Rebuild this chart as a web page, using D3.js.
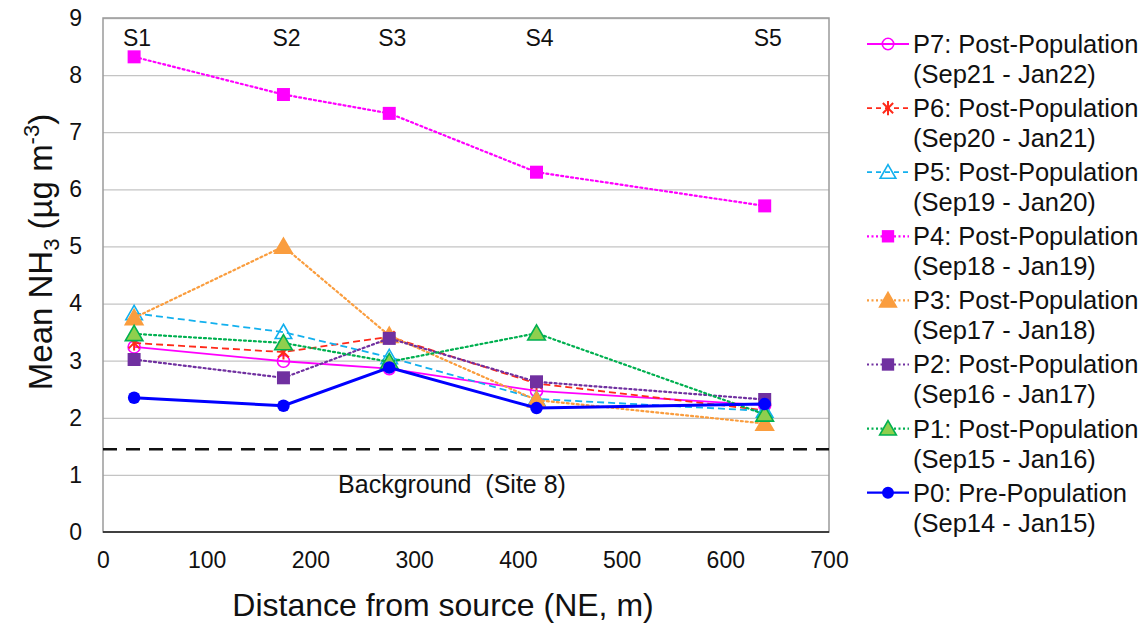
<!DOCTYPE html>
<html>
<head>
<meta charset="utf-8">
<script src="https://cdn.jsdelivr.net/npm/d3@7.9.0/dist/d3.min.js"></script>
<style>
  body { margin: 0; background: #fff; }
  svg { display: block; font-family: "Liberation Sans", Arial, sans-serif; }
</style>
</head>
<body>
<svg id="chart" width="1146" height="626"></svg>
<script>
// distances of the sampling sites (m, NE of source)
const distances = [30, 174, 276, 418, 638];
const siteLabels = ['S1', 'S2', 'S3', 'S4', 'S5'];

// mean NH3 per period at S1..S5
const p7 = [3.24, 2.99, 2.86, 2.47, 2.22];
const p6 = [3.31, 3.15, 3.42, 2.60, 2.13];
const p5 = [3.83, 3.50, 3.06, 2.33, 2.12];
const p4 = [8.32, 7.66, 7.33, 6.30, 5.71];
const p3 = [3.75, 5.00, 3.44, 2.31, 1.90];
const p2 = [3.02, 2.70, 3.39, 2.63, 2.32];
const p1 = [3.47, 3.31, 2.98, 3.48, 2.06];
const p0 = [2.35, 2.21, 2.88, 2.17, 2.24];

const seriesNames = [
  'P7: Post-Population', 'P6: Post-Population', 'P5: Post-Population', 'P4: Post-Population',
  'P3: Post-Population', 'P2: Post-Population', 'P1: Post-Population', 'P0: Pre-Population'
];
const seriesPeriods = [
  '(Sep21 - Jan22)', '(Sep20 - Jan21)', '(Sep19 - Jan20)', '(Sep18 - Jan19)',
  '(Sep17 - Jan18)', '(Sep16 - Jan17)', '(Sep15 - Jan16)', '(Sep14 - Jan15)'
];

const backgroundLevel = 1.45;
const backgroundLabel = 'Background  (Site 8)';

const xTicks = [0, 100, 200, 300, 400, 500, 600, 700];
const yTicks = [0, 1, 2, 3, 4, 5, 6, 7, 8, 9];

// styling per series (same order as names)
const styles = [
  { color: '#ff00ff', dash: null,  width: 1.8, marker: 'circleOpen' },
  { color: '#ff2a1a', dash: '7,4', width: 1.8, marker: 'asterisk' },
  { color: '#12b0ee', dash: '7,4', width: 1.8, marker: 'triangleOpen' },
  { color: '#ff00ff', dash: '2,3', width: 2.2, marker: 'square', fill: '#ff00ff' },
  { color: '#fa9d3e', dash: '2,3', width: 2.2, marker: 'triangle', fill: '#fa9d3e' },
  { color: '#7030a0', dash: '2,3', width: 2.2, marker: 'square', fill: '#7030a0' },
  { color: '#00b050', dash: '2,3', width: 2.2, marker: 'triangle', fill: '#8fcf4e' },
  { color: '#0000ff', dash: null,  width: 3,   marker: 'circle', fill: '#0000ff' }
];
const allValues = [p7, p6, p5, p4, p3, p2, p1, p0];

const series = seriesNames.map((name, i) => ({
  name: name,
  period: seriesPeriods[i],
  values: allValues[i].map((v, j) => ({ d: distances[j], v: v })),
  ...styles[i]
}));

const svg = d3.select('#chart');
const plotL = 103, plotR = 829, plotT = 18, plotB = 532;

const x = d3.scaleLinear().domain([0, 700]).range([plotL, plotR]);
const y = d3.scaleLinear().domain([0, 9]).range([plotB, plotT]);

// gridlines
svg.append('g')
  .attr('transform', `translate(${plotL},0)`)
  .call(d3.axisLeft(y).tickValues(yTicks.slice(1)).tickSize(-(plotR - plotL)).tickFormat(''))
  .call(g => g.select('.domain').remove())
  .call(g => g.selectAll('line').attr('stroke', '#c4c4c4').attr('stroke-width', 1.3));

// plot frame
svg.append('rect')
  .attr('x', plotL).attr('y', plotT)
  .attr('width', plotR - plotL).attr('height', plotB - plotT)
  .attr('fill', 'none').attr('stroke', '#9a9a9a').attr('stroke-width', 1.5);
svg.append('line')
  .attr('x1', plotL).attr('x2', plotR).attr('y1', plotB).attr('y2', plotB)
  .attr('stroke', '#1a1a1a').attr('stroke-width', 1.5);

// y axis labels
svg.append('g')
  .attr('transform', `translate(${plotL - 21},0)`)
  .call(d3.axisLeft(y).tickValues(yTicks).tickSize(0).tickPadding(0))
  .call(g => g.select('.domain').remove())
  .call(g => g.selectAll('text')
    .attr('font-size', 23).attr('fill', '#111')
    .attr('font-family', '"Liberation Sans", Arial, sans-serif'));

// x axis labels
svg.append('g')
  .attr('transform', `translate(0,${plotB + 20})`)
  .call(d3.axisBottom(x).tickValues(xTicks).tickSize(0).tickPadding(0))
  .call(g => g.select('.domain').remove())
  .call(g => g.selectAll('text')
    .attr('font-size', 23).attr('fill', '#111')
    .attr('font-family', '"Liberation Sans", Arial, sans-serif'));

// axis titles
svg.append('text')
  .attr('x', 443).attr('y', 616)
  .attr('text-anchor', 'middle')
  .attr('font-size', 32).attr('fill', '#111')
  .text('Distance from source (NE, m)');

const yTitle = svg.append('text')
  .attr('transform', 'translate(52,252) rotate(-90)')
  .attr('text-anchor', 'middle')
  .attr('font-size', 33).attr('fill', '#111');
yTitle.append('tspan').text('Mean NH');
yTitle.append('tspan').attr('font-size', 22).attr('dy', 7).text('3');
yTitle.append('tspan').attr('dy', -7).text(' (µg m');
yTitle.append('tspan').attr('font-size', 22).attr('dy', -13).text('-3');
yTitle.append('tspan').attr('dy', 13).text(')');

// site labels along the top
svg.append('g').selectAll('text')
  .data(siteLabels)
  .join('text')
  .attr('x', (d, i) => x(distances[i]) + 3)
  .attr('y', 46)
  .attr('text-anchor', 'middle')
  .attr('font-size', 23).attr('fill', '#111')
  .text(d => d);

// background line
svg.append('line')
  .attr('x1', plotL).attr('x2', plotR)
  .attr('y1', y(backgroundLevel)).attr('y2', y(backgroundLevel))
  .attr('stroke', '#111').attr('stroke-width', 2.5)
  .attr('stroke-dasharray', '14,9');
svg.append('text')
  .attr('x', 452).attr('y', 493)
  .attr('text-anchor', 'middle')
  .attr('font-size', 25).attr('fill', '#111')
  .style('white-space', 'pre')
  .text(backgroundLabel);

// marker path builder
function markerPath(type, s) {
  const h = s / 2;
  switch (type) {
    case 'square':
      return `M${-h},${-h}H${h}V${h}H${-h}Z`;
    case 'triangle':
    case 'triangleOpen':
      return `M0,${-h * 1.05}L${h * 1.1},${h * 0.85}L${-h * 1.1},${h * 0.85}Z`;
    case 'circle':
    case 'circleOpen':
      return d3.symbol(d3.symbolCircle, Math.PI * h * h)();
    case 'asterisk': {
      const d = h * 0.72;
      return `M0,${-h}V${h}M${-d},${-d}L${d},${d}M${-d},${d}L${d},${-d}`;
    }
  }
}
const markerSize = { square: 13, triangle: 16, triangleOpen: 15, circle: 12.5, circleOpen: 12, asterisk: 15 };

function drawMarker(sel, s, scale) {
  sel.attr('d', markerPath(s.marker, markerSize[s.marker] * scale))
    .attr('fill', s.fill || (s.marker === 'asterisk' ? 'none' : '#fff'))
    .attr('fill-opacity', s.fill ? 1 : 0)
    .attr('stroke', s.marker === 'square' || s.marker === 'circle' ? 'none' : s.color)
    .attr('stroke-width', s.marker === 'asterisk' ? 2 : 1.6);
}

const line = d3.line().x(d => x(d.d)).y(d => y(d.v));

const groups = svg.append('g').selectAll('g')
  .data(series)
  .join('g');

groups.append('path')
  .attr('d', d => line(d.values))
  .attr('fill', 'none')
  .attr('stroke', d => d.color)
  .attr('stroke-width', d => d.width)
  .attr('stroke-dasharray', d => d.dash)
  .attr('stroke-linecap', d => d.dash === '2,3' ? 'round' : 'butt');

groups.each(function (s) {
  d3.select(this).selectAll('path.mark')
    .data(s.values)
    .join('path')
    .attr('class', 'mark')
    .attr('transform', d => `translate(${x(d.d)},${y(d.v)})`)
    .call(sel => drawMarker(sel, s, 1));
});

// legend
const legend = svg.append('g').attr('transform', 'translate(867,44)');
const items = legend.selectAll('g')
  .data(series)
  .join('g')
  .attr('transform', (d, i) => `translate(0,${i * 64.1})`);

items.append('line')
  .attr('x1', 0).attr('x2', 42)
  .attr('stroke', d => d.color)
  .attr('stroke-width', d => Math.min(d.width, 2.2))
  .attr('stroke-dasharray', d => d.dash ? (d.dash === '2,3' ? '2,2.5' : '5,4') : null);

items.append('path')
  .attr('transform', 'translate(21,0)')
  .each(function (s) { drawMarker(d3.select(this), s, 0.95); });

items.append('text')
  .attr('x', 46).attr('y', 0).attr('dy', '0.35em')
  .attr('font-size', 25.5).attr('fill', '#111')
  .text(d => d.name);
items.append('text')
  .attr('x', 46).attr('y', 30).attr('dy', '0.35em')
  .attr('font-size', 25.5).attr('fill', '#111')
  .text(d => d.period);
</script>
</body>
</html>
